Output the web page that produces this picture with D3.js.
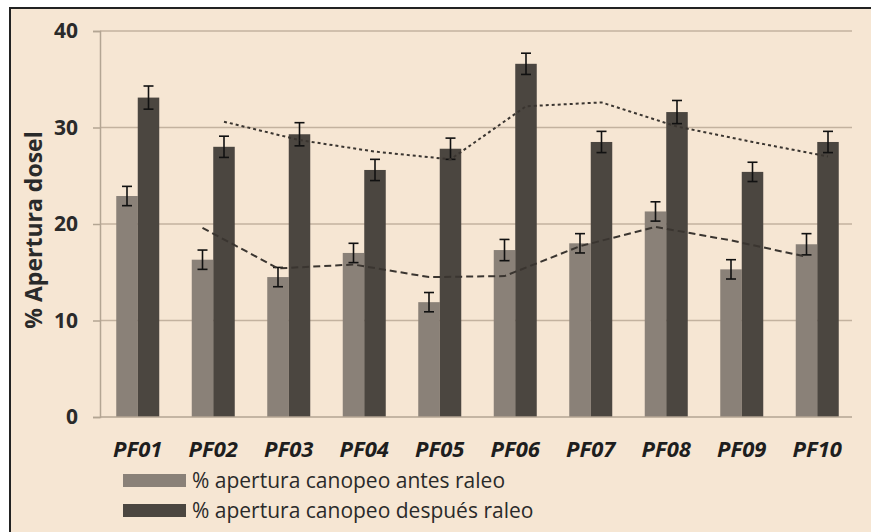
<!DOCTYPE html>
<html>
<head>
<meta charset="utf-8">
<script src="https://cdn.jsdelivr.net/npm/d3@7"></script>
<style>
    body { margin: 0; background: #fff; }
    svg { display: block; }
</style>
</head>
<body>
<svg class="chart"></svg>
<script>
// Data
const parcels = ["PF01", "PF02", "PF03", "PF04", "PF05", "PF06", "PF07", "PF08", "PF09", "PF10"];
const antes = [22.9, 16.3, 14.5, 17.0, 11.9, 17.3, 18.0, 21.3, 15.3, 17.9];
const antesErr = [1.0, 1.0, 1.0, 1.0, 1.0, 1.1, 1.0, 1.0, 1.0, 1.1];
const despues = [33.1, 28.0, 29.3, 25.6, 27.8, 36.6, 28.5, 31.6, 25.4, 28.5];
const despuesErr = [1.2, 1.1, 1.2, 1.1, 1.1, 1.1, 1.1, 1.2, 1.0, 1.1];
// trend lines (2-point moving average as drawn, from PF02 on)
const antesTrend = [19.6, 15.4, 15.8, 14.5, 14.6, 17.7, 19.7, 18.3, 16.6];
const despuesTrend = [30.6, 28.7, 27.5, 26.7, 32.2, 32.6, 30.1, 28.5, 27.0];
const yTicks = [0, 10, 20, 30, 40];
const legendLabels = ["% apertura canopeo antes raleo", "% apertura canopeo después raleo"];

function makeChart() {
    const svgWidth = 871, svgHeight = 532;
    const margin = { top: 31, right: 16, bottom: 115, left: 100 };
    const width = svgWidth - margin.left - margin.right;
    const height = svgHeight - margin.top - margin.bottom;

    const lightCol = "#8a8178", darkCol = "#4b4640";
    const font = "'Open Sans', Lato, sans-serif";

    const canvas = d3.select(".chart")
        .attr("width", svgWidth)
        .attr("height", svgHeight);

    // background frame
    canvas.append("rect")
        .attr("x", 10).attr("y", 8)
        .attr("width", svgWidth + 10).attr("height", svgHeight + 10)
        .attr("fill", "#f6e6d3")
        .attr("stroke", "#222")
        .attr("stroke-width", 2);

    const plotArea = canvas.append("g")
        .attr("transform", `translate(${margin.left},${margin.top})`);

    // Scales
    const x = d3.scaleBand().domain(parcels).range([0, width]);
    const y = d3.scaleLinear().domain([0, 40]).range([height, 0]);
    const barW = 21.5;
    const xs = (i, s) => x(parcels[i]) + x.bandwidth() / 2 + (s === 0 ? -barW / 2 : barW / 2);

    // gridlines
    plotArea.append("g")
        .selectAll("line")
        .data(yTicks.filter(d => d > 0))
        .enter().append("line")
        .attr("x1", 0).attr("x2", width - 3)
        .attr("y1", d => y(d)).attr("y2", d => y(d))
        .attr("stroke", "#c3b29f")
        .attr("stroke-width", 1.5);

    // Axes
    const yAxis = plotArea.append("g")
        .call(d3.axisLeft(y).tickValues(yTicks).tickSize(7).tickPadding(15));
    yAxis.select(".domain").attr("stroke", "#b3a593").attr("stroke-width", 1.5);
    yAxis.selectAll(".tick line").attr("stroke", "#b3a593").attr("stroke-width", 1.5);
    yAxis.selectAll("text")
        .style("font-family", font)
        .style("font-weight", "bold")
        .style("font-size", "21px")
        .attr("fill", "#2a2a2a");

    const series = [
        { vals: antes, err: antesErr, col: lightCol, s: 0 },
        { vals: despues, err: despuesErr, col: darkCol, s: 1 }
    ];

    // Bars
    series.forEach(ser => {
        plotArea.append("g")
            .selectAll("rect")
            .data(ser.vals)
            .enter().append("rect")
            .attr("x", (d, i) => xs(i, ser.s) - barW / 2)
            .attr("width", barW)
            .attr("y", d => y(d))
            .attr("height", d => height - y(d))
            .attr("fill", ser.col);
    });

    // x axis line
    plotArea.append("line")
        .attr("x1", 0).attr("x2", width - 3)
        .attr("y1", height).attr("y2", height)
        .attr("stroke", "#b3a593").attr("stroke-width", 1.5);

    // Error bars
    series.forEach(ser => {
        const g = plotArea.append("g").attr("stroke", "#111").attr("stroke-width", 1.6);
        ser.vals.forEach((v, i) => {
            const cx = xs(i, ser.s);
            g.append("line").attr("x1", cx).attr("x2", cx)
                .attr("y1", y(v + ser.err[i])).attr("y2", y(v - ser.err[i]));
            g.append("line").attr("x1", cx - 5).attr("x2", cx + 5)
                .attr("y1", y(v + ser.err[i])).attr("y2", y(v + ser.err[i]));
            g.append("line").attr("x1", cx - 5).attr("x2", cx + 5)
                .attr("y1", y(v - ser.err[i])).attr("y2", y(v - ser.err[i]));
        });
    });

    // Trend lines
    const trends = [
        { vals: antesTrend, s: 0, dash: "7,4" },
        { vals: despuesTrend, s: 1, dash: "3,3" }
    ];
    trends.forEach(t => {
        const line = d3.line()
            .x((d, i) => xs(i + 1, t.s))
            .y(d => y(d));
        plotArea.append("path")
            .datum(t.vals)
            .attr("fill", "none")
            .attr("stroke", "#3a3530")
            .attr("stroke-width", 2)
            .attr("stroke-dasharray", t.dash)
            .attr("d", line);
    });

    // x labels
    plotArea.append("g")
        .selectAll("text")
        .data(parcels)
        .enter().append("text")
        .attr("x", d => x(d) + x.bandwidth() / 2)
        .attr("y", height + 40)
        .attr("text-anchor", "middle")
        .style("font-family", font)
        .style("font-weight", "bold")
        .style("font-style", "italic")
        .style("font-size", "22px")
        .attr("fill", "#1e1e1e")
        .text(d => d);

    // y title
    canvas.append("text")
        .attr("transform", "rotate(-90)")
        .attr("x", -230)
        .attr("y", 42)
        .attr("text-anchor", "middle")
        .style("font-family", font)
        .style("font-weight", "bold")
        .style("font-size", "23px")
        .attr("fill", "#2a2a2a")
        .text("% Apertura dosel");

    // Legend
    const legend = canvas.append("g").attr("transform", "translate(123,474)");
    legendLabels.forEach((lab, i) => {
        legend.append("rect")
            .attr("x", 0).attr("y", i * 30)
            .attr("width", 63).attr("height", 13)
            .attr("fill", i === 0 ? lightCol : darkCol);
        legend.append("text")
            .attr("x", 69).attr("y", i * 30 + 14)
            .style("font-family", font)
            .style("font-size", "21px")
            .attr("fill", "#2a2a2a")
            .text(lab);
    });
}

makeChart();
</script>
</body>
</html>
